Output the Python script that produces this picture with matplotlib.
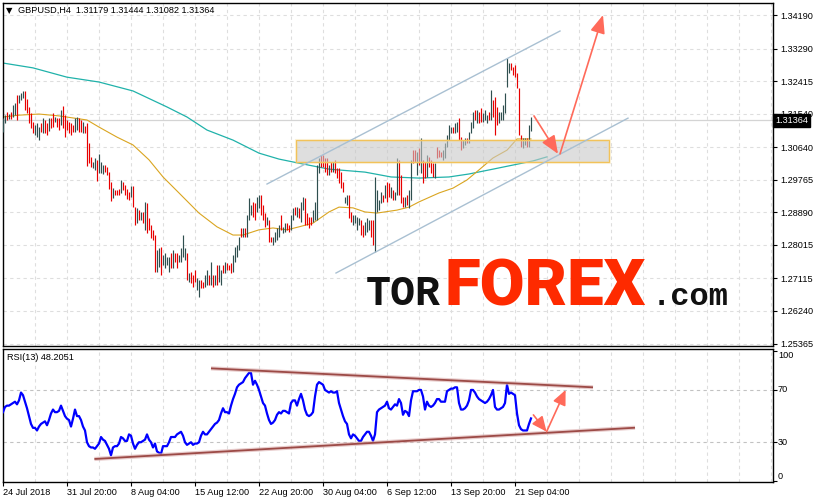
import numpy as np
import matplotlib.pyplot as plt
from matplotlib.patches import Rectangle

plt.rcParams['font.family'] = ['Liberation Sans', 'DejaVu Sans']

# ---------------- data (GBPUSD H4) ----------------
highs = [
    1.3142, 1.3150, 1.3158, 1.3153, 1.3158, 1.3177, 1.3183, 1.3204, 1.3204, 1.3209,
    1.3215, 1.3215, 1.3193, 1.3172, 1.3156, 1.3132, 1.3124, 1.3129, 1.3118, 1.3129,
    1.3142, 1.3137, 1.3129, 1.3142, 1.3142, 1.3156, 1.3145, 1.3142, 1.3142, 1.3164,
    1.3175, 1.3150, 1.3137, 1.3132, 1.3129, 1.3124, 1.3142, 1.3145, 1.3142, 1.3137,
    1.3132, 1.3121, 1.3129, 1.3075, 1.3038, 1.3024, 1.3035, 1.3030, 1.3046, 1.3024,
    1.3016, 1.3016, 1.3011, 1.2997, 1.2970, 1.2954, 1.2949, 1.2949, 1.2952, 1.2976,
    1.2970, 1.2962, 1.2952, 1.2944, 1.2960, 1.2960, 1.2903, 1.2901, 1.2895, 1.2890,
    1.2890, 1.2917, 1.2914, 1.2874, 1.2855, 1.2842, 1.2828, 1.2788, 1.2793, 1.2796,
    1.2774, 1.2780, 1.2769, 1.2769, 1.2780, 1.2788, 1.2780, 1.2780, 1.2774, 1.2793,
    1.2828, 1.2793, 1.2780, 1.2726, 1.2729, 1.2721, 1.2734, 1.2713, 1.2707, 1.2707,
    1.2702, 1.2721, 1.2734, 1.2721, 1.2756, 1.2721, 1.2721, 1.2748, 1.2748, 1.2734,
    1.2748, 1.2756, 1.2753, 1.2748, 1.2753, 1.2774, 1.2796, 1.2801, 1.2823, 1.2847,
    1.2847, 1.2847, 1.2882, 1.2927, 1.2909, 1.2917, 1.2914, 1.2930, 1.2936, 1.2936,
    1.2909, 1.2887, 1.2876, 1.2868, 1.2823, 1.2823, 1.2836, 1.2847, 1.2855, 1.2882,
    1.2850, 1.2860, 1.2860, 1.2855, 1.2882, 1.2901, 1.2903, 1.2903, 1.2901, 1.2917,
    1.2930, 1.2927, 1.2887, 1.2876, 1.2876, 1.2895, 1.2917, 1.3016, 1.3035, 1.3043,
    1.3043, 1.3035, 1.3035, 1.3016, 1.3024, 1.3024, 1.3030, 1.3008, 1.3008, 1.2997,
    1.2970, 1.2930, 1.2936, 1.2936, 1.2890, 1.2882, 1.2882, 1.2876, 1.2874, 1.2868,
    1.2855, 1.2863, 1.2874, 1.2868, 1.2868, 1.2868, 1.2984, 1.2949, 1.2922, 1.2944,
    1.2936, 1.2962, 1.2970, 1.2968, 1.2957, 1.2949, 1.2944, 1.3035, 1.3030, 1.2989,
    1.2930, 1.2930, 1.2936, 1.2949, 1.3030, 1.3056, 1.3056, 1.3051, 1.3062, 1.3089,
    1.3030, 1.3024, 1.3043, 1.3038, 1.3030, 1.3021, 1.3021, 1.3064, 1.3056, 1.3051,
    1.3056, 1.3075, 1.3097, 1.3124, 1.3118, 1.3118, 1.3129, 1.3132, 1.3142, 1.3091,
    1.3083, 1.3089, 1.3089, 1.3105, 1.3132, 1.3158, 1.3164, 1.3164, 1.3158, 1.3169,
    1.3156, 1.3164, 1.3150, 1.3158, 1.3218, 1.3191, 1.3199, 1.3172, 1.3158, 1.3158,
    1.3177, 1.3209, 1.3304, 1.3290, 1.3290, 1.3279, 1.3285, 1.3263, 1.3223, 1.3097,
    1.3089, 1.3089, 1.3089, 1.3124, 1.3144,
]
lows = [
    1.3105, 1.3129, 1.3137, 1.3140, 1.3140, 1.3145, 1.3150, 1.3137, 1.3183, 1.3191,
    1.3196, 1.3164, 1.3156, 1.3129, 1.3115, 1.3102, 1.3097, 1.3091, 1.3083, 1.3105,
    1.3102, 1.3102, 1.3097, 1.3107, 1.3115, 1.3118, 1.3132, 1.3118, 1.3110, 1.3124,
    1.3115, 1.3091, 1.3110, 1.3102, 1.3097, 1.3105, 1.3105, 1.3110, 1.3105, 1.3105,
    1.3102, 1.3102, 1.3013, 1.3021, 1.3011, 1.3008, 1.3003, 1.2973, 1.2995, 1.2995,
    1.2992, 1.2997, 1.2989, 1.2952, 1.2919, 1.2927, 1.2936, 1.2936, 1.2936, 1.2941,
    1.2949, 1.2936, 1.2925, 1.2922, 1.2930, 1.2903, 1.2855, 1.2860, 1.2868, 1.2868,
    1.2860, 1.2842, 1.2833, 1.2842, 1.2820, 1.2815, 1.2729, 1.2729, 1.2742, 1.2721,
    1.2748, 1.2739, 1.2748, 1.2729, 1.2739, 1.2739, 1.2756, 1.2739, 1.2756, 1.2756,
    1.2769, 1.2761, 1.2707, 1.2702, 1.2699, 1.2688, 1.2702, 1.2680, 1.2662, 1.2686,
    1.2686, 1.2688, 1.2694, 1.2694, 1.2694, 1.2688, 1.2694, 1.2694, 1.2702, 1.2694,
    1.2726, 1.2726, 1.2734, 1.2734, 1.2726, 1.2729, 1.2756, 1.2769, 1.2788, 1.2823,
    1.2823, 1.2823, 1.2823, 1.2868, 1.2882, 1.2876, 1.2868, 1.2890, 1.2901, 1.2882,
    1.2868, 1.2850, 1.2855, 1.2809, 1.2809, 1.2801, 1.2809, 1.2815, 1.2823, 1.2842,
    1.2833, 1.2836, 1.2842, 1.2836, 1.2842, 1.2868, 1.2882, 1.2876, 1.2874, 1.2863,
    1.2895, 1.2855, 1.2855, 1.2847, 1.2855, 1.2863, 1.2868, 1.2868, 1.2995, 1.3011,
    1.3011, 1.2997, 1.2989, 1.2989, 1.2997, 1.2997, 1.2995, 1.2981, 1.2968, 1.2954,
    1.2944, 1.2914, 1.2909, 1.2874, 1.2863, 1.2855, 1.2860, 1.2842, 1.2855, 1.2828,
    1.2823, 1.2828, 1.2836, 1.2842, 1.2823, 1.2801, 1.2782, 1.2890, 1.2895, 1.2914,
    1.2917, 1.2927, 1.2917, 1.2930, 1.2927, 1.2922, 1.2922, 1.2936, 1.2936, 1.2914,
    1.2903, 1.2903, 1.2909, 1.2901, 1.2922, 1.3021, 1.3024, 1.2989, 1.3016, 1.2995,
    1.2968, 1.2981, 1.2984, 1.3011, 1.2995, 1.2984, 1.2981, 1.3035, 1.3038, 1.3038,
    1.3030, 1.3035, 1.3064, 1.3083, 1.3102, 1.3102, 1.3102, 1.3105, 1.3083, 1.3056,
    1.3062, 1.3070, 1.3075, 1.3075, 1.3102, 1.3115, 1.3137, 1.3129, 1.3129, 1.3132,
    1.3132, 1.3137, 1.3129, 1.3137, 1.3137, 1.3145, 1.3097, 1.3124, 1.3129, 1.3137,
    1.3137, 1.3156, 1.3226, 1.3263, 1.3271, 1.3258, 1.3252, 1.3223, 1.3097, 1.3064,
    1.3062, 1.3070, 1.3064, 1.3064, 1.3108,
]
# U = bullish bar, D = bearish bar
bar_dir = ("UUDUDUUDUU" "UDDDDDUUUD" "UDDUDDUDDU" "DDDDDDUUDD" "UDDDDUUDUU"
           "UDDDDUDDDU" "DDDDUDDUDU" "DUDDDDDUUD" "UUUUDUDDUU" "UUDUDDDUUD"
           "DUUDUDUDUU" "DUDDDUUUUD" "UDUUUDDUUD" "DDUDDUUUUD" "UUDDUUDUDU"
           "UDDDDUUUUD" "DDDUDUDDDD" "DUUDDUUUUD" "DUUUDDUUUU" "DUDDUDUUDD"
           "DUDUUDDUDU" "DDUDDDUDDD" "UUUUUDUUDD" "UUDUUUDUDD" "UUUDUDDDUU"
           "UUUUDDDDDD" "UUDUU")

rsi = [
    53, 57, 58, 58, 59, 60, 61, 59, 62, 68,
    66, 61, 56, 50, 44, 41, 41, 39, 42, 44,
    45, 46, 43, 47, 52, 55, 53, 53, 54, 58,
    54, 50, 48, 47, 42, 48, 55, 50, 50, 47,
    42, 39, 30, 27, 26, 26, 25, 27, 29, 34,
    32, 31, 28, 25, 20, 26, 27, 27, 29, 34,
    33, 31, 31, 36, 35, 29, 25, 28, 30, 30,
    31, 32, 36, 32, 30, 26, 29, 23, 22, 21,
    27, 27, 27, 30, 34, 34, 34, 36, 37, 38,
    35, 30, 28, 29, 30, 28, 29, 29, 30, 35,
    38, 36, 36, 38, 40, 42, 44, 45, 47, 52,
    56, 53, 53, 52, 58, 63, 67, 72, 74, 75,
    76, 79, 81, 83, 83, 74, 77, 74, 70, 65,
    60, 58, 52, 47, 44, 45, 47, 51, 53, 52,
    54, 54, 53, 52, 60, 62, 62, 58, 63, 67,
    62, 55, 51, 50, 51, 53, 65, 74, 76, 75,
    74, 70, 69, 68, 69, 68, 68, 69, 60, 55,
    50, 46, 44, 36, 33, 36, 35, 33, 31, 31,
    34, 36, 38, 38, 35, 31, 36, 53, 55, 56,
    57, 58, 61, 56, 55, 57, 59, 58, 63, 60,
    51, 54, 53, 50, 62, 69, 69, 69, 70, 70,
    65, 55, 61, 58, 57, 58, 60, 63, 63, 61,
    61, 61, 69, 70, 71, 71, 72, 72, 60, 55,
    55, 56, 58, 62, 70, 70, 68, 65, 63, 62,
    61, 60, 61, 63, 66, 70, 57, 55, 55, 56,
    57, 60, 74, 67, 68, 67, 66, 52, 43, 40,
    39, 39, 39, 44, 48.2051,
]

# moving averages sampled at bar indices
ma_slow_idx = [0, 15, 32, 48, 65, 82, 92, 102, 115, 128, 138, 148, 163, 181,
               194, 208, 223, 233, 245, 255, 265, 272]
ma_slow = [1.3290, 1.3277, 1.3252, 1.3239, 1.3215, 1.3172, 1.3145, 1.3110,
           1.3083, 1.3048, 1.3032, 1.3021, 1.3005, 1.2997, 1.2984, 1.2981,
           1.2984, 1.2992, 1.3005, 1.3016, 1.3027, 1.3038]
ma_fast_idx = [0, 8, 18, 28, 42, 48, 57, 65, 73, 80, 88, 98, 107, 115, 120,
               128, 135, 142, 148, 155, 163, 168, 175, 181, 187, 197, 203,
               208, 218, 225, 232, 238, 245, 252, 257, 264]
ma_fast = [1.3145, 1.3150, 1.3153, 1.3148, 1.3137, 1.3118, 1.3091, 1.3070,
           1.3030, 1.2984, 1.2941, 1.2887, 1.2850, 1.2828, 1.2828, 1.2842,
           1.2847, 1.2842, 1.2850, 1.2860, 1.2890, 1.2903, 1.2901, 1.2890,
           1.2887, 1.2895, 1.2903, 1.2917, 1.2941, 1.2954, 1.2976, 1.3003,
           1.3035, 1.3056, 1.3086, 1.3086]

price_ticks = [1.34190, 1.33290, 1.32415, 1.31540, 1.30640, 1.29765,
               1.28890, 1.28015, 1.27115, 1.26240, 1.25365]
date_labels = ["24 Jul 2018", "31 Jul 20:00", "8 Aug 04:00", "15 Aug 12:00",
               "22 Aug 20:00", "30 Aug 04:00", "6 Sep 12:00", "13 Sep 20:00",
               "21 Sep 04:00"]
rsi_labels = ["100", "70", "30", "0"]
last_price = 1.31364

# annotations drawn by the analyst
zone = (146.5, 303.0, 1.3024, 1.3083)
chan_up = ([132, 278.5], [1.2965, 1.3376])
chan_dn = ([166.5, 312.5], [1.2726, 1.3142])
arrows_price = [((265.5, 1.3148), (277.5, 1.3046)), ((278.5, 1.3046), (300, 1.3419))]
rsi_up = ([104, 295], [86.5, 72.0])
rsi_dn = ([45.7, 316], [17.2, 41.1])
arrows_rsi = [((265.2, 50.9), (271.8, 38.1)), ((271.8, 38.1), (281.3, 70.0))]

# ---------------- layout ----------------
W, H = 817, 503
fig = plt.figure(figsize=(W / 100, H / 100), dpi=100)


def frac(l, t, r, b):
    return [l / W, 1 - b / H, (r - l) / W, (b - t) / H]


ax = fig.add_axes(frac(2.5, 2.5, 773, 345.5))
ax2 = fig.add_axes(frac(2.5, 349, 773, 482))
for a in (ax, ax2):
    a.set_xlim(-0.25, 385)
    a.set_facecolor('white')
    for s in a.spines.values():
        s.set_color('black')
        s.set_linewidth(1)
    for g in range(16, 385, 16):
        a.axvline(g, color='#dedede', lw=0.8, ls=(0, (3, 3)), zorder=0)

ax.set_ylim(1.25313, 1.34526)
ax2.set_ylim(-0.4, 101.3)

# ---------------- price panel ----------------
for p in price_ticks:
    ax.axhline(p, color='#dedede', lw=0.8, ls=(0, (3, 3)), zorder=0)
ax.axhline(last_price, color='#d4d4d4', lw=0.9, zorder=1)

x = np.arange(len(highs))
up = np.array([c == 'U' for c in bar_dir])
hi = np.array(highs)
lo = np.array(lows)
ax.plot(ma_slow_idx, ma_slow, color='#20b2aa', lw=0.9, zorder=2)
ax.plot(ma_fast_idx, ma_fast, color='#daa520', lw=0.8, zorder=2)
ax.vlines(x[up], lo[up], hi[up], color='#2f4f4f', lw=0.85, zorder=3)
ax.vlines(x[~up], lo[~up], hi[~up], color='#e80000', lw=0.85, zorder=3)

x0, x1, y0, y1 = zone
ax.add_patch(Rectangle((x0, y0), x1 - x0, y1 - y0, facecolor='#c8c8c8',
                       edgecolor='none', alpha=0.6, zorder=4))
ax.add_patch(Rectangle((x0, y0), x1 - x0, y1 - y0, fill=False,
                       edgecolor='#f5d37a', lw=2.2, alpha=0.3, zorder=4))
ax.add_patch(Rectangle((x0, y0), x1 - x0, y1 - y0, fill=False,
                       edgecolor='#f2c25a', lw=0.8, zorder=4))

ax.plot(*chan_up, color='#a9c0d2', lw=1.0, zorder=5)
ax.plot(*chan_dn, color='#a9c0d2', lw=1.0, zorder=5)

arr_col = '#ff6a5a'
for p0, p1 in arrows_price:
    ax.annotate('', xy=p1, xytext=p0,
                arrowprops=dict(arrowstyle='-|>,head_length=1.1,head_width=0.45',
                                color=arr_col, lw=1.2, shrinkA=0, shrinkB=0,
                                mutation_scale=10), zorder=6)

ax.yaxis.tick_right()
ax.set_yticks(price_ticks)
ax.set_yticklabels([f'{p:.5f}' for p in price_ticks])
ax.tick_params(axis='y', direction='out', length=3, width=0.8, pad=2,
               labelsize=6.6, colors='black')
ax.set_xticks([])

ax.text(1.0 + 2 / 770.5, last_price, f'{last_price:.5f}', color='white',
        fontsize=6.6, va='center', ha='left', transform=ax.get_yaxis_transform(),
        bbox=dict(boxstyle='square,pad=0.2', fc='black', ec='black'),
        zorder=10, clip_on=False)

# ---------------- RSI panel ----------------
for lv in (70, 30):
    ax2.axhline(lv, color='#c2c2c2', lw=0.8, ls=(0, (3, 3)), zorder=0)
ax2.plot(np.arange(len(rsi)), rsi, color='#0000ff', lw=1.6, zorder=3)
for ln in (rsi_up, rsi_dn):
    ax2.plot(*ln, color='#d9aaaa', lw=3.0, alpha=0.6, zorder=4,
             solid_capstyle='butt')
    ax2.plot(*ln, color='#9c4a46', lw=1.3, zorder=4, solid_capstyle='butt')
for p0, p1 in arrows_rsi:
    ax2.annotate('', xy=p1, xytext=p0,
                 arrowprops=dict(arrowstyle='-|>,head_length=1.0,head_width=0.45',
                                 color=arr_col, lw=1.2, shrinkA=0, shrinkB=0,
                                 mutation_scale=9), zorder=6)

ax2.yaxis.tick_right()
ax2.set_yticks([100, 70, 30, 0])
ax2.set_yticklabels([])
ax2.tick_params(axis='y', direction='out', length=3, width=0.8)
lab_y = [96, 70, 30, 4]
ytr = ax2.get_yaxis_transform()
for lab, yy in zip(rsi_labels, lab_y):
    ax2.text(1.0 + 5 / 770.5, yy, lab, fontsize=6.6, va='center', ha='left',
             transform=ytr, clip_on=False)

ax2.set_xticks(np.arange(0, 32 * len(date_labels), 32))
ax2.set_xticklabels(date_labels, ha='left')
ax2.tick_params(axis='x', direction='out', length=3, width=0.8, pad=1.5,
                labelsize=6.6)

# ---------------- headers ----------------
fig.text(6 / W, 1 - 10.5 / H, '\u25bc', fontsize=6, family='DejaVu Sans',
         va='center')
fig.text(18 / W, 1 - 10.5 / H, 'GBPUSD,H4  1.31179 1.31444 1.31082 1.31364',
         fontsize=6.6, va='center')
fig.text(7 / W, 1 - 358 / H, 'RSI(13) 48.2051', fontsize=6.6, va='center')

# ---------------- logo ----------------
fig.text(366 / W, 1 - 305 / H, 'TOR', fontsize=30, family='Liberation Mono',
         weight='bold', color='#111111', va='baseline', zorder=8)
fig.text(445 / W, 1 - 305 / H, 'FOREX', fontsize=47, family=['Roboto', 'DejaVu Sans'],
         weight='black', color='#fe2a00', va='baseline', zorder=8)
fig.text(652 / W, 1 - 305 / H, '.com', fontsize=23, family='Liberation Mono',
         weight='bold', color='#111111', va='baseline', zorder=8)

fig.savefig('out.png', dpi=100)
